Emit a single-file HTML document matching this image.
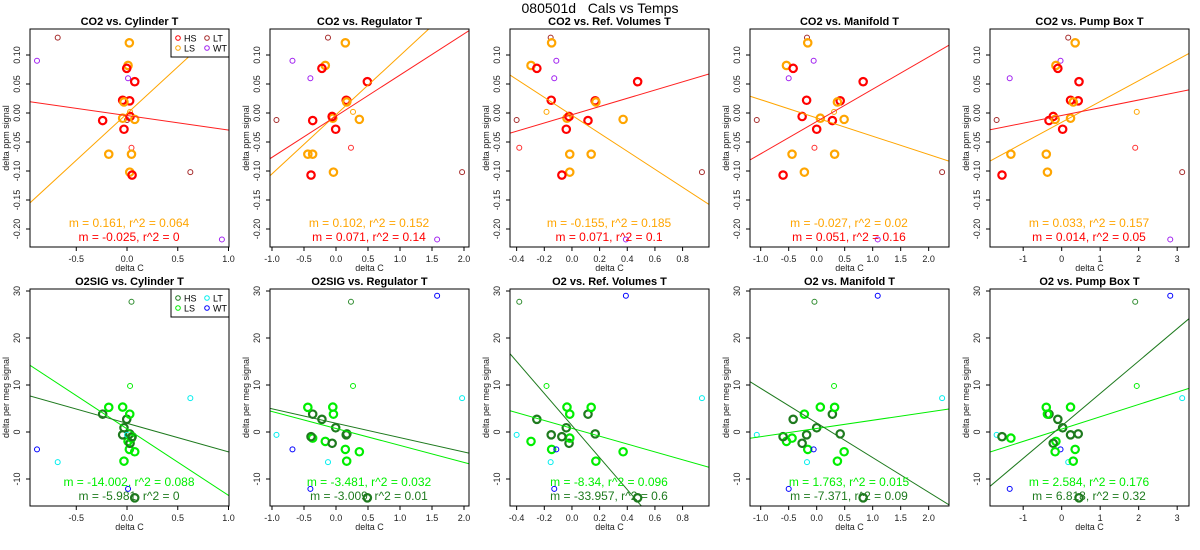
<!DOCTYPE html>
<html><head><meta charset="utf-8"><style>
html,body{margin:0;background:#fff;width:1200px;height:550px;overflow:hidden;}
svg{display:block;font-family:"Liberation Sans",sans-serif;}
</style></head><body>
<svg id="chart" width="1200" height="550"></svg>
<script>
const groups = ["LT","LS","WT","LS","HS","WT","HS","HS","HS","LS","LSs","LT","LS","HS","HS","LS","HS","HSs","LS","LS","LS","HS","LT","WT"];
const co2 = [0.130,0.121,0.090,0.082,0.077,0.060,0.054,0.022,0.021,0.019,0.002,-0.012,-0.009,-0.006,-0.013,-0.011,-0.028,-0.06,-0.071,-0.071,-0.102,-0.107,-0.102,-0.218];
const o2 = [-6.4,-3.7,-3.7,-2.0,2.7,-12.1,-14.0,-0.6,-0.4,-6.2,9.8,-0.6,5.3,-2.4,3.8,-4.2,0.9,27.7,5.25,-1.3,3.8,-1.0,7.2,29.0];
const xCyl = [-0.683,0.023,-0.887,0.010,-0.003,0.010,0.076,-0.043,0.026,-0.030,0.03,0.0,-0.043,0.03,-0.24,0.076,-0.03,0.044,-0.18,0.044,0.027,0.05,0.624,0.935];
const xReg = [-0.125,0.146,-0.68,-0.167,-0.22,-0.40,0.49,0.16,0.17,0.167,0.266,-0.93,-0.05,-0.06,-0.364,0.365,-0.005,0.234,-0.44,-0.365,-0.04,-0.39,1.97,1.58];
const xRef = [-0.154,-0.147,-0.113,-0.296,-0.254,-0.128,0.475,-0.150,0.168,0.173,-0.184,-0.40,-0.036,-0.021,0.116,0.37,-0.041,-0.381,0.139,-0.016,-0.016,-0.073,0.940,0.39];
const xMan = [-0.173,-0.16,-0.054,-0.54,-0.42,-0.5,0.83,-0.18,0.42,0.37,0.31,-1.07,0.065,-0.26,0.28,0.49,0.0,-0.04,0.32,-0.44,-0.22,-0.6,2.24,1.09];
const xPump = [0.17,0.35,-0.03,-0.15,-0.1,-1.35,0.45,0.23,0.43,0.30,1.95,-1.69,0.23,-0.22,-0.33,-0.17,0.025,1.91,-0.40,-1.32,-0.37,-1.55,3.13,2.82];
const titlesTop = ["CO2 vs. Cylinder T","CO2 vs. Regulator T","CO2 vs. Ref. Volumes T","CO2 vs. Manifold T","CO2 vs. Pump Box T"];
const titlesBot = ["O2SIG vs. Cylinder T","O2SIG vs. Regulator T","O2 vs. Ref. Volumes T","O2 vs. Manifold T","O2 vs. Pump Box T"];
const xDomains = [[-0.956,1.005],[-1.031,2.078],[-0.448,0.991],[-1.191,2.363],[-1.862,3.307]];
const xTicks = [[-0.5,0,0.5,1.0],[-1,-0.5,0,0.5,1,1.5,2],[-0.4,-0.2,0,0.2,0.4,0.6,0.8],[-1,-0.5,0,0.5,1,1.5,2],[-1,0,1,2,3]];
const xTickLabels = [["-0.5","0.0","0.5","1.0"],["-1.0","-0.5","0.0","0.5","1.0","1.5","2.0"],["-0.4","-0.2","0.0","0.2","0.4","0.6","0.8"],["-1.0","-0.5","0.0","0.5","1.0","1.5","2.0"],["-1","0","1","2","3"]];
const yTicksTop = [-0.20,-0.15,-0.10,-0.05,0,0.05,0.10];
const yTickLabelsTop = ["-0.20","-0.15","-0.10","-0.05","0.00","0.05","0.10"];
const yTicksBot = [-10,0,10,20,30];
const yTickLabelsBot = ["-10","0","10","20","30"];
const lsSlopeTop = [0.161,0.102,-0.155,-0.0315,0.0359];
const lsIntTop = [-0.001,-0.003,-0.004,-0.0085,-0.016];
const hsSlopeTop = [-0.025,0.071,0.071,0.0557,0.0133];
const hsIntTop = [-0.0044,-0.0055,-0.003,-0.0147,-0.0042];
const lsSlopeBot = [-14.15,-3.61,-8.36,1.753,2.62];
const lsIntBot = [0.67,0.75,0.78,0.75,0.62];
const hsSlopeBot = [-6.08,-3.07,-34.1,-7.37,6.9];
const hsIntBot = [1.85,1.87,1.38,1.92,1.29];
const annLsTop = ["m = 0.161, r^2 = 0.064","m = 0.102, r^2 = 0.152","m = -0.155, r^2 = 0.185","m = -0.027, r^2 = 0.02","m = 0.033, r^2 = 0.157"];
const annHsTop = ["m = -0.025, r^2 = 0","m = 0.071, r^2 = 0.14","m = 0.071, r^2 = 0.1","m = 0.051, r^2 = 0.16","m = 0.014, r^2 = 0.05"];
const annLsBot = ["m = -14.002, r^2 = 0.088","m = -3.481, r^2 = 0.032","m = -8.34, r^2 = 0.096","m = 1.763, r^2 = 0.015","m = 2.584, r^2 = 0.176"];
const annHsBot = ["m = -5.981, r^2 = 0","m = -3.009, r^2 = 0.01","m = -33.957, r^2 = 0.6","m = -7.371, r^2 = 0.09","m = 6.818, r^2 = 0.32"];

const NS="http://www.w3.org/2000/svg";
const svg=document.getElementById('chart');
function mk(tag,attrs,parent,text){const e=document.createElementNS(NS,tag);for(const k in attrs)e.setAttribute(k,attrs[k]);if(text!==undefined)e.textContent=text;(parent||svg).appendChild(e);return e;}
const xCols=[xCyl,xReg,xRef,xMan,xPump];
const colTop={HS:"#ff0000",HSs:"#ff3030",LS:"#ffa500",LSs:"#ffa500",LT:"#a52a2a",WT:"#a020f0"};
const colBot={HS:"#1e7a1e",HSs:"#2e8b2e",LS:"#00ee00",LSs:"#00ee00",LT:"#00eeee",WT:"#0000ff"};

const mt=mk('text',{x:600,y:13,'text-anchor':'middle','font-size':14,style:'white-space:pre'},svg,"080501d   Cals vs Temps");



function panel(col,row){
  const ox=col*240, L=ox+30, R=ox+229;
  const T=row===0?29:289, B=row===0?247:506;
  const xd=xDomains[col];
  const sx=v=>L+(v-xd[0])/(xd[1]-xd[0])*(R-L);
  const sy=row===0?(v=>113-v*580):(v=>432-v*4.7);
  const g=mk('g',{},svg);
  
  
  const cid='clip'+row+col;
  const cp=mk('clipPath',{id:cid},g);mk('rect',{x:L,y:T,width:R-L,height:B-T},cp);
  const t=mk('text',{x:(L+R)/2,y:T-4,'text-anchor':'middle','font-size':11,'font-weight':'bold'},g,row===0?titlesTop[col]:titlesBot[col]);
  
  
  xTicks[col].forEach((v,i)=>{const x=sx(v);mk('line',{x1:x,x2:x,y1:B,y2:B+4,stroke:'#000'},g);
    const tl=mk('text',{x:x,y:B+15,'text-anchor':'middle','font-size':9,fill:'#222'},g,xTickLabels[col][i]);
    
    });
  const yt=row===0?yTicksTop:yTicksBot, yl=row===0?yTickLabelsTop:yTickLabelsBot;
  yt.forEach((v,i)=>{const y=sy(v);mk('line',{x1:L-4,x2:L,y1:y,y2:y,stroke:'#000'},g);
    const tl=mk('text',{x:ox+20,y:y,'text-anchor':'middle','font-size':9,fill:'#222',transform:`rotate(-90 ${ox+20} ${y})`},g,yl[i]);
    
    });
  const xa=mk('text',{x:(L+R)/2,y:B+24,'text-anchor':'middle','font-size':9,fill:'#222'},g,"delta C");
  
  
  const ym=(T+B)/2;
  const ya=mk('text',{x:ox+9,y:ym,'text-anchor':'middle','font-size':9,fill:'#222',transform:`rotate(-90 ${ox+9} ${ym})`},g,row===0?"delta ppm signal":"delta per meg signal");
  
  
  const xs=xCols[col], ys=row===0?co2:o2, cm=row===0?colTop:colBot;
  xs.forEach((xv,i)=>{const gr=groups[i];const big=(gr==="HS"||gr==="LS");
    const c=mk('circle',{cx:sx(xv),cy:sy(ys[i]),r:big?3.7:2.5,fill:'none',stroke:cm[gr],'stroke-width':big?2.2:1},g);
    
    });
  const lsS=row===0?lsSlopeTop:lsSlopeBot, lsI=row===0?lsIntTop:lsIntBot;
  const hsS=row===0?hsSlopeTop:hsSlopeBot, hsI=row===0?hsIntTop:hsIntBot;
  const lg=mk('g',{'clip-path':`url(#${cid})`},g);
  [[lsS[col],lsI[col],cm.LS,'ls-fit-line'],[hsS[col],hsI[col],row===0?"#ff2020":"#1e7a1e",'hs-fit-line']].forEach(([m,b,c,n])=>{
    const ln=mk('line',{x1:sx(xd[0]),y1:sy(m*xd[0]+b),x2:sx(xd[1]),y2:sy(m*xd[1]+b),stroke:c,'stroke-width':1},lg);
    
    });
  const a1y=row===0?227:486, a2y=row===0?241:500;
  const a1=mk('text',{x:ox+129,y:a1y,'text-anchor':'middle','font-size':12,fill:cm.LS},g,row===0?annLsTop[col]:annLsBot[col]);
  
  
  const a2=mk('text',{x:ox+129,y:a2y,'text-anchor':'middle','font-size':12,fill:row===0?"#ff0000":"#1e7a1e"},g,row===0?annHsTop[col]:annHsBot[col]);
  
  
  mk('rect',{x:L,y:T,width:R-L,height:B-T,fill:'none',stroke:'#000','stroke-width':1},g);
  if(col===0){
    const lgd=mk('g',{},g);
    
    
    mk('rect',{x:171,y:T,width:58,height:28,fill:'#fff',stroke:'#000'},lgd);
    [["HS",178,T+9],["LS",178,T+19],["LT",207,T+9],["WT",207,T+19]].forEach(([k,x,y])=>{
      mk('circle',{cx:x,cy:y,r:2.3,fill:'none',stroke:cm[k]},lgd);
      const et=mk('text',{x:x+6,y:y+3.5,'font-size':9},lgd,k);
      
      });
  }
}
for(let r=0;r<2;r++)for(let c=0;c<5;c++)panel(c,r);
</script>
</body></html>
